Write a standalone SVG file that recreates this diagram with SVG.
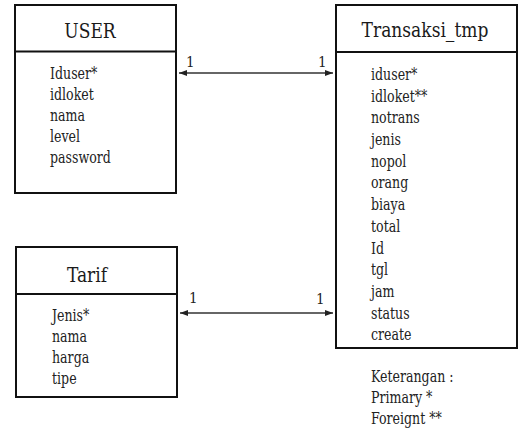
<svg xmlns="http://www.w3.org/2000/svg" width="520" height="431" viewBox="0 0 520 431">
  <style>
    .box { fill: #ffffff; stroke: #111111; stroke-width: 2; }
    .div { stroke: #111111; stroke-width: 2; }
    .serif { font-family: 'DejaVu Serif Condensed', 'DejaVu Serif', serif; font-stretch: condensed; }
    .title { font-size: 19px; fill: #1a1a1a; text-anchor: middle; }
    .attr { font-size: 14px; fill: #222222; }
    .card { font-size: 15px; fill: #222222; }
    .link { stroke: #333333; stroke-width: 1.5; fill: none; marker-start: url(#arrow); marker-end: url(#arrow); }
  </style>
  <defs>
    <marker id="arrow" viewBox="0 0 8 6" refX="8" refY="3" markerWidth="8" markerHeight="6" markerUnits="userSpaceOnUse" orient="auto-start-reverse">
      <path d="M0,0 L8,3 L0,6 Z" fill="#222222"/>
    </marker>
  </defs>
  <rect width="520" height="431" fill="#ffffff"/>

  <!-- USER entity -->
  <g id="user">
    <rect class="box" x="15" y="5" width="161" height="188"/>
    <line class="div" x1="15" y1="51.5" x2="176" y2="51.5"/>
    <text class="title serif" transform="translate(90,38) scale(1,1.1)">USER</text>
    <text class="attr serif" transform="translate(50,79) scale(1,1.2)">
      <tspan x="0" y="0">Iduser*</tspan>
      <tspan x="0" dy="17.5">idloket</tspan>
      <tspan x="0" dy="17.5">nama</tspan>
      <tspan x="0" dy="17.5">level</tspan>
      <tspan x="0" dy="17.5">password</tspan>
    </text>
  </g>

  <!-- Transaksi_tmp entity -->
  <g id="transaksi_tmp">
    <rect class="box" x="336" y="5" width="181" height="343"/>
    <line class="div" x1="336" y1="52" x2="517" y2="52"/>
    <text class="title serif" transform="translate(425,37) scale(1,1.1)">Transaksi_tmp</text>
    <text class="attr serif" transform="translate(371,80) scale(1,1.2)">
      <tspan x="0" y="0">iduser*</tspan>
      <tspan x="0" dy="18.08">idloket**</tspan>
      <tspan x="0" dy="18.08">notrans</tspan>
      <tspan x="0" dy="18.08">jenis</tspan>
      <tspan x="0" dy="18.08">nopol</tspan>
      <tspan x="0" dy="18.08">orang</tspan>
      <tspan x="0" dy="18.08">biaya</tspan>
      <tspan x="0" dy="18.08">total</tspan>
      <tspan x="0" dy="18.08">Id</tspan>
      <tspan x="0" dy="18.08">tgl</tspan>
      <tspan x="0" dy="18.08">jam</tspan>
      <tspan x="0" dy="18.08">status</tspan>
      <tspan x="0" dy="18.08">create</tspan>
    </text>
  </g>

  <!-- Tarif entity -->
  <g id="tarif">
    <rect class="box" x="16" y="247" width="161" height="150"/>
    <line class="div" x1="16" y1="294" x2="177" y2="294"/>
    <text class="title serif" transform="translate(87,282) scale(1,1.1)">Tarif</text>
    <text class="attr serif" transform="translate(52,321) scale(1,1.2)">
      <tspan x="0" y="0">Jenis*</tspan>
      <tspan x="0" dy="17.5">nama</tspan>
      <tspan x="0" dy="17.5">harga</tspan>
      <tspan x="0" dy="17.5">tipe</tspan>
    </text>
  </g>

  <!-- Legend -->
  <g id="keterangan">
    <text class="attr serif" transform="translate(371,382) scale(1,1.2)">
      <tspan x="0" y="0">Keterangan :</tspan>
      <tspan x="0" dy="17.5">Primary *</tspan>
      <tspan x="0" dy="17.5">Foreignt **</tspan>
    </text>
  </g>

  <!-- Relationships -->
  <g id="connectors">
    <line class="link" x1="179" y1="73" x2="333" y2="73"/>
    <text class="card serif" x="186" y="67">1</text>
    <text class="card serif" x="318" y="67">1</text>

    <line class="link" x1="180" y1="313" x2="333" y2="313"/>
    <text class="card serif" x="189" y="303">1</text>
    <text class="card serif" x="316" y="304">1</text>
  </g>
</svg>
